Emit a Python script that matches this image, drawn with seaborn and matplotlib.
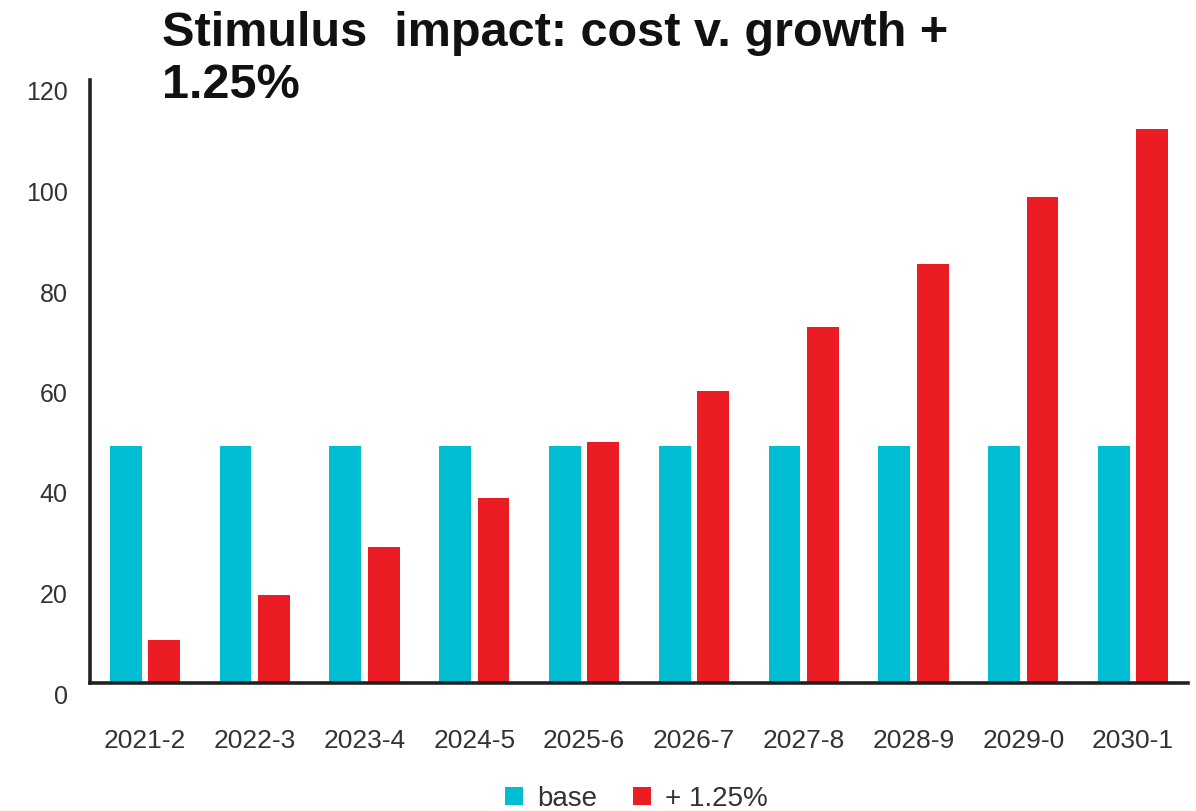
import matplotlib
matplotlib.use("Agg")
import matplotlib.pyplot as plt
from matplotlib.transforms import ScaledTranslation
from matplotlib.patches import Patch
from matplotlib import font_manager
import seaborn as sns
import pandas as pd

# Fiscal years and series values
years = ["2021-2", "2022-3", "2023-4", "2024-5", "2025-6",
         "2026-7", "2027-8", "2028-9", "2029-0", "2030-1"]
base = [47.2, 47.2, 47.2, 47.2, 47.2, 47.2, 47.2, 47.2, 47.2, 47.2]
plus_125 = [8.6, 17.5, 27.1, 36.8, 47.9, 58.2, 70.8, 83.3, 96.7, 110.2]
series_names = ["base", "+ 1.25%"]
y_ticks = [0, 20, 40, 60, 80, 100, 120]

title_text = "Stimulus  impact: cost v. growth +\n1.25%"

colors = {"base": "#00BDD1", "+ 1.25%": "#EC1C24"}

df = pd.DataFrame({
    "year": years * 2,
    "value": base + plus_125,
    "series": [series_names[0]] * len(years) + [series_names[1]] * len(years),
})

sns.set_theme(style="white")
available = {f.name for f in font_manager.fontManager.ttflist}
title_family = ["Liberation Sans Narrow", "Liberation Sans", "DejaVu Sans"]
title_family = [f for f in title_family if f in available] or ["DejaVu Sans"]
plt.rcParams["font.family"] = ["Liberation Sans", "DejaVu Sans"]

fig = plt.figure(figsize=(11.96, 8.11), dpi=100)
ax = fig.add_axes([90 / 1196, 1 - 683 / 811, (1188 - 90) / 1196, (683 - 80) / 811])

sns.barplot(data=df, x="year", y="value", hue="series", palette=colors,
            width=0.7, gap=0.17, ax=ax, legend=False, saturation=1,
            edgecolor="none")

ax.set_ylim(0, 120)
ax.set_xlim(-0.5, len(years) - 0.5)
ax.set_yticks(y_ticks)
ax.set_yticklabels([str(t) for t in y_ticks])
ax.set_xlabel("")
ax.set_ylabel("")

for side in ["top", "right"]:
    ax.spines[side].set_visible(False)
for side in ["left", "bottom"]:
    ax.spines[side].set_color("#222222")
    ax.spines[side].set_linewidth(2.6)

ax.tick_params(axis="y", length=0, pad=16, labelsize=18, labelcolor="#333333")
ax.tick_params(axis="x", length=0, pad=33, labelsize=19, labelcolor="#333333")

# y labels sit slightly below their gridline positions
shift = ScaledTranslation(0, -11 / 100, fig.dpi_scale_trans)
for lab in ax.get_yticklabels():
    lab.set_transform(lab.get_transform() + shift)

fig.text(162 / 1196, 1 - 11 / 811, title_text, ha="left", va="top",
         fontsize=35, fontweight="bold", color="#111111",
         family=title_family, linespacing=1.2)

handles = [Patch(facecolor=colors[s], edgecolor="none", label=s) for s in series_names]
fig.legend(handles=handles, loc="lower center", bbox_to_anchor=(0.532, -0.032),
           ncol=2, frameon=False, fontsize=20, handlelength=0.65,
           handleheight=0.65, handletextpad=0.5, columnspacing=1.3,
           labelcolor="#333333")

fig.savefig("out.png", dpi=100, facecolor="white")
